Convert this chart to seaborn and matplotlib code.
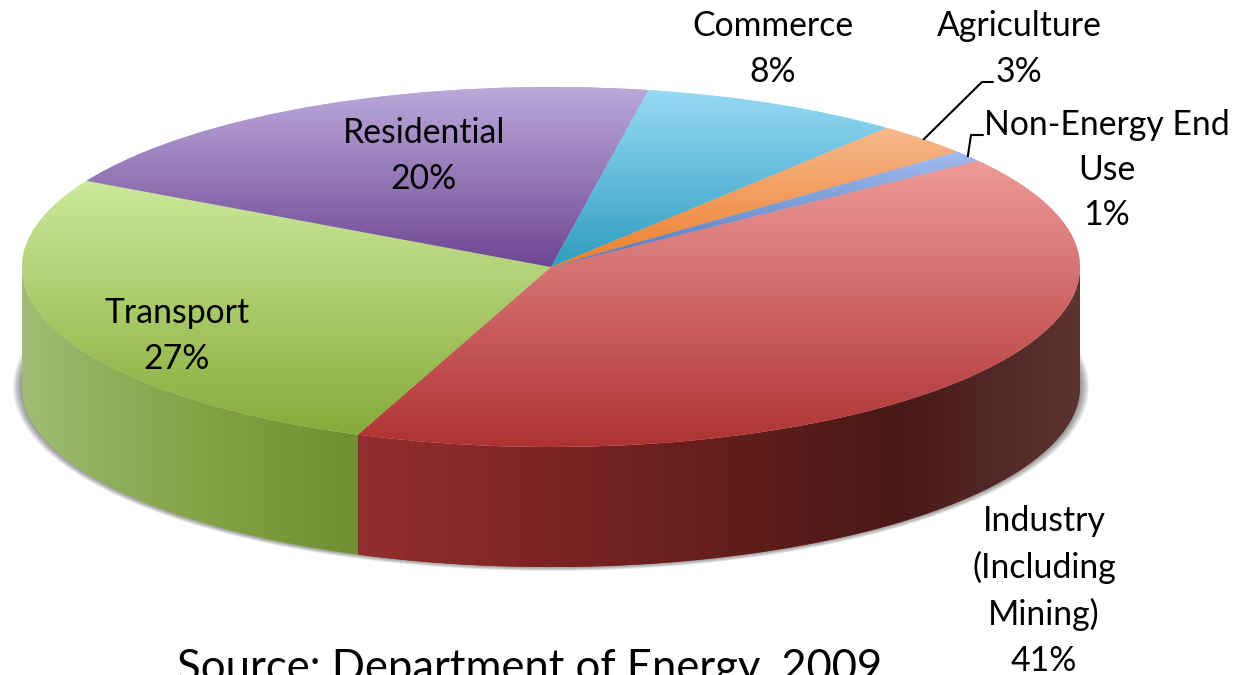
import numpy as np
import matplotlib
matplotlib.use("Agg")
import matplotlib.pyplot as plt
from matplotlib.patches import Ellipse, Polygon
import seaborn as sns

# shares in percent, clockwise from the right hand side
sectors = ["Industry\n(Including\nMining)", "Transport", "Residential",
           "Commerce", "Agriculture", "Non-Energy End\nUse"]
shares = [41, 27, 20, 8, 3, 1]
source_text = "Source: Department of Energy, 2009"

# top face gradients, light to dark
top_colors = [("#EE9A9A", "#AE3232"), ("#CBE99A", "#86AB3A"), ("#BBA9DA", "#6E4693"),
              ("#97DAF4", "#2F9DC0"), ("#F6B98C", "#EE7F2E"), ("#A3BCEE", "#4F78BC")]
# side wall gradients, left to right: red part, then green part
wall_colors = [["#942D2D", "#7D2525", "#641E1C", "#481916", "#5C3434"],
               ["#A0BE73", "#8FB05C", "#84A548", "#7A9A3A", "#708E32"]]

# where the pie sits in the 1235x675 picture
cx, cy = 551, 267
rx, ry = 529, 180
depth = 120 / ry
start_angle = 36.2


def to_data(px, py):
    return (px - cx) / rx, (cy - py) / ry


def on_rim(angle):
    return np.cos(np.radians(angle)), np.sin(np.radians(angle))


sns.set_theme(style="white")
plt.rcParams['font.family'] = ['Lato', 'DejaVu Sans']

fig = plt.figure(figsize=(12.35, 6.75), dpi=100)
ax = fig.add_axes([0, 0, 1, 1])

wedges, _ = ax.pie(shares, startangle=start_angle, counterclock=False, radius=1,
                   wedgeprops={'linewidth': 0, 'zorder': 3})
ax.set_aspect('auto')

# soft shadow under the wall
for k in range(9):
    ax.add_patch(Ellipse((0, -depth), 2 + (18 - 2 * k) / rx, 2 + (8 - k) / ry,
                         facecolor="#404040", edgecolor='none', alpha=0.08, zorder=1))

ramp_v = np.linspace(0, 1, 256)[:, None]
ramp_h = np.linspace(0, 1, 512)[None, :]

# top faces
for wedge, (light, dark) in zip(wedges, top_colors):
    angles = np.linspace(wedge.theta1, wedge.theta2, 200)
    xs = np.r_[0, np.cos(np.radians(angles))]
    ys = np.r_[0, np.sin(np.radians(angles))]
    cmap = sns.blend_palette([light, dark], as_cmap=True)
    wedge.set_facecolor(light)
    im = ax.imshow(ramp_v, cmap=cmap, aspect='auto', origin='upper', zorder=4,
                   extent=(xs.min(), xs.max(), ys.min(), ys.max()))
    im.set_clip_path(wedge)

# side walls, only the front half of the rim is visible
for wedge, colors in zip(wedges[:2], wall_colors):
    t0, t1 = max(wedge.theta1, -180), min(wedge.theta2, 0)
    angles = np.linspace(t0, t1, 300)
    xs, ys = on_rim(angles)
    pts = np.r_[np.c_[xs, ys], np.c_[xs, ys - depth][::-1]]
    wall = Polygon(pts, closed=True, facecolor=colors[0], edgecolor='none', zorder=2)
    ax.add_patch(wall)
    cmap = sns.blend_palette(colors, as_cmap=True)
    im = ax.imshow(ramp_h, cmap=cmap, aspect='auto', zorder=2.5,
                   extent=(xs.min(), xs.max(), (ys - depth).min(), ys.max()))
    im.set_clip_path(wall)

ax.set_xlim(to_data(0, 0)[0], to_data(1235, 0)[0])
ax.set_ylim(to_data(0, 675)[1], to_data(0, 0)[1])
ax.axis('off')

# labels, centre of each text block in pixels
label_pos = [(1044, 591), (177, 336), (424, 156), (773, 49), (1019, 49), (1107, 170)]
for name, share, (px, py) in zip(sectors, shares, label_pos):
    x, y = to_data(px, py)
    ax.text(x, y, f"{name}\n{share}%", ha='center', va='center', fontsize=24.3,
            linespacing=1.51, color='black', zorder=6)

# leader lines for the two thin slices
for wedge, elbow, end in zip(wedges[4:], [(982, 82), (971, 135)], [(993, 82), (983, 135)]):
    mid = (wedge.theta1 + wedge.theta2) / 2
    x0, y0 = on_rim(mid)
    x1, y1 = to_data(*elbow)
    x2, y2 = to_data(*end)
    ax.plot([x0, x1, x2], [y0, y1, y2], color='black', lw=1.5, zorder=6)

x, y = to_data(177, 681)
ax.text(x, y, source_text, ha='left', va='baseline', fontsize=31.4, color='black', zorder=6)

fig.savefig("out.png", dpi=100)
